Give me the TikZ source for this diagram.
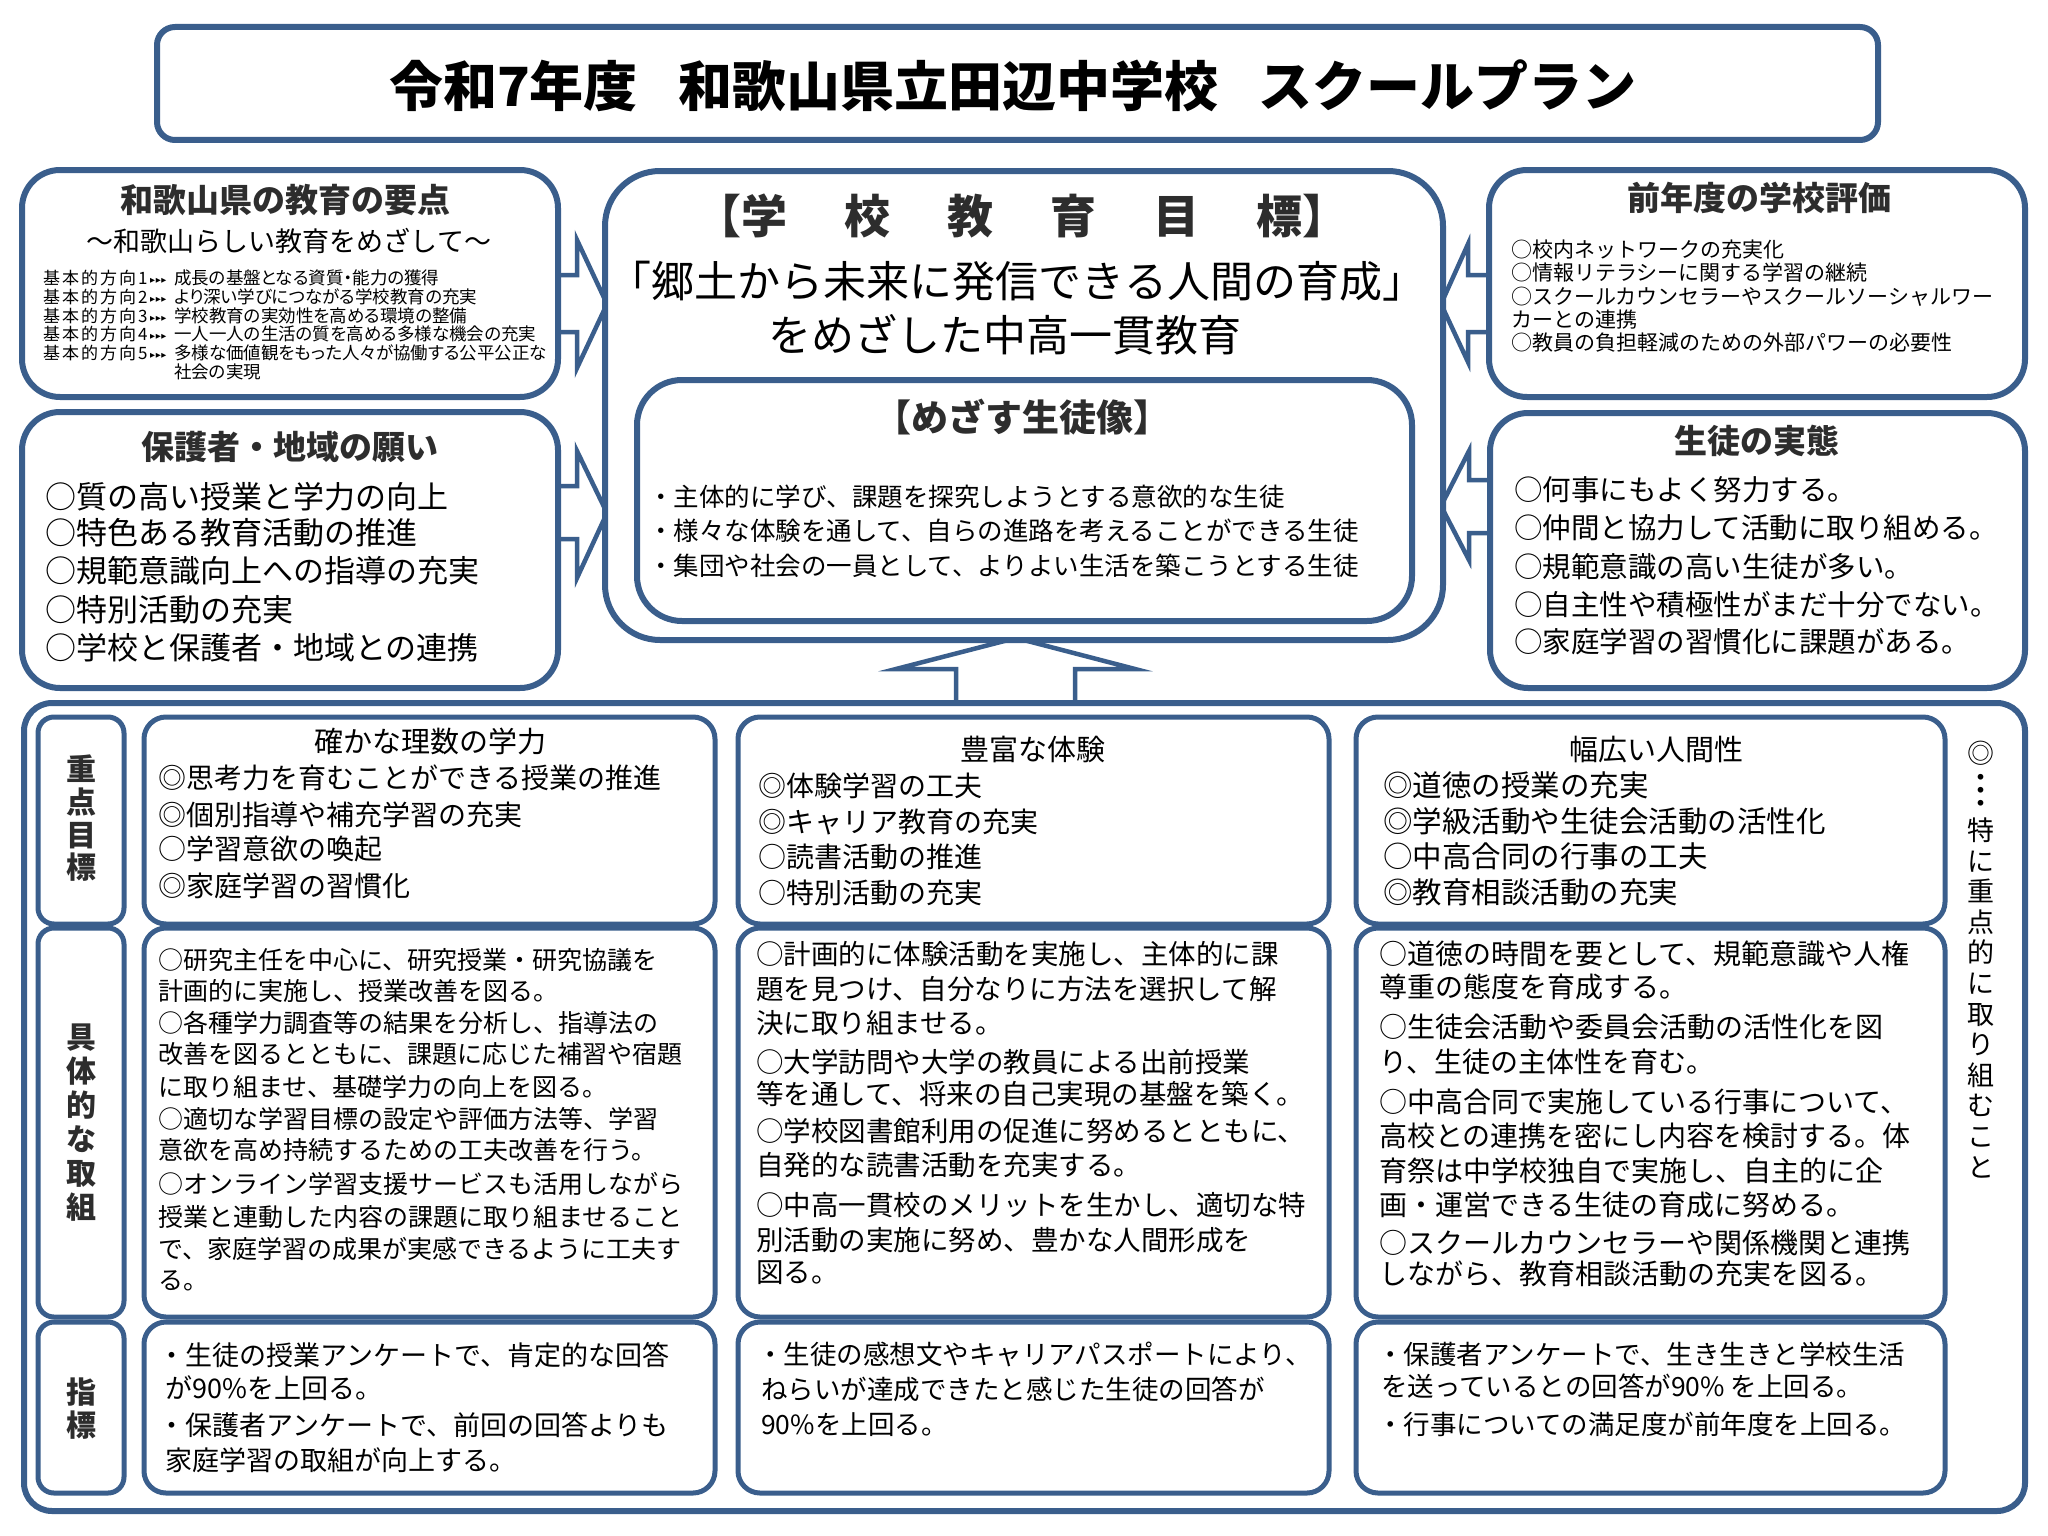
\documentclass[tikz,border=0pt]{standalone}
\usepackage{fontspec}
\setmainfont{Noto Sans CJK JP}
\newfontfamily\pf{Noto Sans CJK JP}[RawFeature=+palt]
\newfontfamily\symf{DejaVu Sans}
\definecolor{bb}{RGB}{58,94,140}
\definecolor{hd}{RGB}{45,45,45}
\newcommand\fs[1]{\fontsize{#1pt}{#1pt}\selectfont}
\newcommand\dirlab[1]{基\kern2pt 本\kern2pt 的\kern2pt 方\kern2pt 向\kern2pt #1}
\newcommand\gap{\hspace{57pt}}
\tikzset{
  obox/.style={draw=bb, line width=6pt, fill=white},
  cbox/.style={draw=bb, line width=5pt, fill=white, rounded corners=22pt},
  lbox/.style={draw=bb, line width=5pt, fill=white, rounded corners=16pt},
  arr/.style={draw=bb, line width=4.5pt, fill=white, line join=miter},
  tx/.style={anchor=base west, inner sep=0pt},
  tc/.style={anchor=base, inner sep=0pt},
  hdg/.style={anchor=base, inner sep=0pt, text=hd},
}
\begin{document}
\begin{tikzpicture}[x=1pt,y=-1pt]
\useasboundingbox (0,0) rectangle (2048,1536);
\fill[white] (0,0) rectangle (2048,1536);

% ---- block arrows (drawn first) ----
\draw[arr] (558,275) -- (577,275) -- (577,240) -- (607,304) -- (577,368) -- (577,332) -- (558,332);
\draw[arr] (558,486) -- (577,486) -- (577,451) -- (607,513) -- (577,578) -- (577,539) -- (558,539);
\draw[arr] (1489,275) -- (1468,275) -- (1468,244) -- (1441,304) -- (1468,362) -- (1468,332) -- (1489,332);
\draw[arr] (1490,480) -- (1469,480) -- (1469,451) -- (1441,506) -- (1469,560) -- (1469,533) -- (1490,533);
\draw[arr] (956,706) -- (956,669) -- (896,669) -- (1016,638) -- (1135,669) -- (1075,669) -- (1075,706);

% ---- boxes ----
\draw[obox, rounded corners=18pt] (157,27) rectangle (1878,140);
\draw[obox, rounded corners=38pt] (22,170) rectangle (558,397);
\draw[obox, rounded corners=38pt] (22,412) rectangle (558,688);
\draw[obox, rounded corners=38pt] (1489,170) rectangle (2025,397);
\draw[obox, rounded corners=38pt] (1490,413) rectangle (2025,688);
\draw[obox, rounded corners=55pt] (605,171) rectangle (1443,640);
\draw[obox, rounded corners=45pt] (637,380) rectangle (1412,621);
\draw[obox, rounded corners=28pt] (24,703) rectangle (2025,1511);
\foreach \ya/\yb in {717/924, 928/1317, 1322/1493}{
  \draw[lbox] (38,\ya) rectangle (124,\yb);
  \foreach \xa/\xb in {144/715, 738/1329, 1356/1945}
    \draw[cbox] (\xa,\ya) rectangle (\xb,\yb);
}

% ---- title ----
\node[hdg, text=black, font=\fs{54}\bfseries] (title) at (1013,107) {令和7年度\hspace{0.75em}和歌山県立田辺中学校\hspace{0.75em}スクールプラン};

% ---- left top ----
\node[hdg, font=\fs{33}\bfseries] (lth) at (285,212.2) {和歌山県の教育の要点};
\node[tc, font=\fs{27}] (lts) at (289,251) {～和歌山らしい教育をめざして～};
\foreach \yy/\n/\tx [count=\i] in {
  284.3/1/成長の基盤となる資質・能力の獲得,
  303.3/2/より深い学びにつながる学校教育の充実,
  322.3/3/学校教育の実効性を高める環境の整備,
  340.3/4/一人一人の生活の質を高める多様な機会の充実,
  359.3/5/多様な価値観をもった人々が協働する公平公正な}{
  \node[tx, font=\pf\fs{17}] (ltl\i) at (43,\yy) {\dirlab{\n}};
  \node[tx, font=\symf\fs{6.5}] (lta\i) at (150,\yy-1.5) {▶\kern0.6pt▶\kern0.6pt▶};
  \node[tx, font=\pf\fs{17.5}] (ltc\i) at (174,\yy) {\tx};
}
\node[tx, font=\pf\fs{17.5}] (ltc6) at (174,378.3) {社会の実現};

% ---- left middle ----
\node[hdg, font=\fs{33}\bfseries] (lmh) at (290,459.2) {保護者・地域の願い};
\foreach \yy/\tx [count=\i] in {
  508.5/○質の高い授業と学力の向上,
  544.5/○特色ある教育活動の推進,
  582.5/○規範意識向上への指導の充実,
  621.5/○特別活動の充実,
  659.5/○学校と保護者・地域との連携}
  \node[tx, font=\fs{31}] (lm\i) at (45,\yy) {\tx};

% ---- right top ----
\node[hdg, font=\fs{33}\bfseries] (rth) at (1759,210.2) {前年度の学校評価};
\foreach \yy/\tx [count=\i] in {
  257.8/○校内ネットワークの充実化,
  280.8/○情報リテラシーに関する学習の継続,
  304.8/○スクールカウンセラーやスクールソーシャルワー,
  327.8/カーとの連携,
  350.8/○教員の負担軽減のための外部パワーの必要性}
  \node[tx, font=\fs{21}] (rt\i) at (1511,\yy) {\tx};

% ---- right middle ----
\node[hdg, font=\fs{33}\bfseries] (rmh) at (1757,453.2) {生徒の実態};
\foreach \yy/\tx [count=\i] in {
  500.5/○何事にもよく努力する。,
  538.5/○仲間と協力して活動に取り組める。,
  577.5/○規範意識の高い生徒が多い。,
  615.5/○自主性や積極性がまだ十分でない。,
  652.5/○家庭学習の習慣化に課題がある。}
  \node[tx, font=\fs{28.5}] (rm\i) at (1514,\yy) {\tx};

% ---- centre ----
\node[hdg, font=\fs{46}\bfseries] (goalh) at (1022,233) {【学\gap 校\gap 教\gap 育\gap 目\gap 標】};
\node[tc, font=\fs{43}] (goal1) at (1017,297.9) {「郷土から未来に発信できる人間の育成」};
\node[tc, font=\fs{43}] (goal2) at (1005,351.9) {をめざした中高一貫教育};
\node[hdg, font=\fs{37}\bfseries] (imgh) at (1022,431.7) {【めざす生徒像】};
\foreach \yy/\tx [count=\i] in {
  506.4/・主体的に学び、課題を探究しようとする意欲的な生徒,
  540.4/・様々な体験を通して、自らの進路を考えることができる生徒,
  575.4/・集団や社会の一員として、よりよい生活を築こうとする生徒}
  \node[tx, font=\fs{25.5}] (img\i) at (648,\yy) {\tx};

% ---- row labels ----
\foreach \c [count=\i from 0] in {重,点,目,標}
  \node[hdg, font=\fs{30}\bfseries] (la\i) at (81,780.6+\i*32.7) {\c};
\foreach \c [count=\i from 0] in {具,体,的,な,取,組}
  \node[hdg, font=\fs{30}\bfseries] (lb\i) at (81,1048.6+\i*34) {\c};
\foreach \c [count=\i from 0] in {指,標}
  \node[hdg, font=\fs{30}\bfseries] (lc\i) at (81,1403.6+\i*33) {\c};

% ---- row 1 ----
\node[tc, font=\fs{29}] (t1) at (430,752.7) {確かな理数の学力};
\foreach \yy/\tx [count=\i] in {
  788.4/◎思考力を育むことができる授業の推進,
  825.4/◎個別指導や補充学習の充実,
  859.4/○学習意欲の喚起,
  896.4/◎家庭学習の習慣化}
  \node[tx, font=\fs{28}] (a1\i) at (158,\yy) {\tx};
\node[tc, font=\fs{29}] (t2) at (1033,760.7) {豊富な体験};
\foreach \yy/\tx [count=\i] in {
  796.4/◎体験学習の工夫,
  832.4/◎キャリア教育の充実,
  867.4/○読書活動の推進,
  903.4/○特別活動の充実}
  \node[tx, font=\fs{28}] (a2\i) at (758,\yy) {\tx};
\node[tc, font=\fs{29}] (t3) at (1656,760.7) {幅広い人間性};
\foreach \yy/\tx [count=\i] in {
  796.9/◎道徳の授業の充実,
  832.9/◎学級活動や生徒会活動の活性化,
  867.9/○中高合同の行事の工夫,
  903.9/◎教育相談活動の充実}
  \node[tx, font=\fs{29.5}] (a3\i) at (1383,\yy) {\tx};

% ---- row 2 ----
\foreach \yy/\tx [count=\i] in {
  969.25/○研究主任を中心に、研究授業・研究協議を,
  1000.25/計画的に実施し、授業改善を図る。,
  1032.25/○各種学力調査等の結果を分析し、指導法の,
  1063.25/改善を図るとともに、課題に応じた補習や宿題,
  1096.25/に取り組ませ、基礎学力の向上を図る。,
  1128.25/○適切な学習目標の設定や評価方法等、学習,
  1159.25/意欲を高め持続するための工夫改善を行う。,
  1193.25/○オンライン学習支援サービスも活用しながら,
  1226.25/授業と連動した内容の課題に取り組ませること,
  1258.25/で、家庭学習の成果が実感できるように工夫す,
  1289.25/る。}
  \node[tx, font=\fs{25}] (b1\i) at (158,\yy) {\tx};
\foreach \yy/\tx [count=\i] in {
  964.2/○計画的に体験活動を実施し、主体的に課,
  999.2/題を見つけ、自分なりに方法を選択して解,
  1033.2/決に取り組ませる。,
  1072.2/○大学訪問や大学の教員による出前授業,
  1104.2/等を通して、将来の自己実現の基盤を築く。,
  1141.2/○学校図書館利用の促進に努めるとともに、,
  1175.2/自発的な読書活動を充実する。,
  1215.2/○中高一貫校のメリットを生かし、適切な特,
  1250.2/別活動の実施に努め、豊かな人間形成を,
  1282.2/図る。}
  \node[tx, font=\fs{27.5}] (b2\i) at (756,\yy) {\tx};
\foreach \yy/\tx [count=\i] in {
  964.4/○道徳の時間を要として、規範意識や人権,
  997.4/尊重の態度を育成する。,
  1037.4/○生徒会活動や委員会活動の活性化を図,
  1072.4/り、生徒の主体性を育む。,
  1112.4/○中高合同で実施している行事について、,
  1146.4/高校との連携を密にし内容を検討する。体,
  1181.4/育祭は中学校独自で実施し、自主的に企,
  1215.4/画・運営できる生徒の育成に努める。,
  1253.4/○スクールカウンセラーや関係機関と連携,
  1284.4/しながら、教育相談活動の充実を図る。}
  \node[tx, font=\fs{28}] (b3\i) at (1379,\yy) {\tx};

% ---- row 3 ----
\node[tx, font=\fs{27}] (c11) at (158,1365) {・生徒の授業アンケートで、肯定的な回答};
\node[tx, font=\fs{27}] (c12) at (165,1398) {が90\%を上回る。};
\node[tx, font=\fs{27}] (c13) at (158,1435) {・保護者アンケートで、前回の回答よりも};
\node[tx, font=\fs{27}] (c14) at (165,1470) {家庭学習の取組が向上する。};
\node[tx, font=\fs{26.5}] (c21) at (757,1364.8) {・生徒の感想文やキャリアパスポートにより、};
\node[tx, font=\fs{26.5}] (c22) at (761,1399.8) {ねらいが達成できたと感じた生徒の回答が};
\node[tx, font=\fs{26.5}] (c23) at (761,1434.8) {90\%を上回る。};
\node[tx, font=\fs{26.5}] (c31) at (1377,1364.8) {・保護者アンケートで、生き生きと学校生活};
\node[tx, font=\fs{26.5}] (c32) at (1381,1396.8) {を送っているとの回答が90\% を上回る。};
\node[tx, font=\fs{26.5}] (c33) at (1377,1434.8) {・行事についての満足度が前年度を上回る。};

% ---- right vertical note ----
\node[tc, font=\fs{27}] (v0) at (1981,763) {◎};
\foreach \yy [count=\i] in {787,800,813}
  \node[tc, font=\fs{27}] (vd\i) at (1981,\yy) {・};
\foreach \c [count=\i from 0] in {特,に,重,点,的,に,取,り,組,む,こ,と}
  \node[tc, font=\fs{27}] (vc\i) at (1981,840.5+\i*30.6) {\c};
\end{tikzpicture}
\end{document}
